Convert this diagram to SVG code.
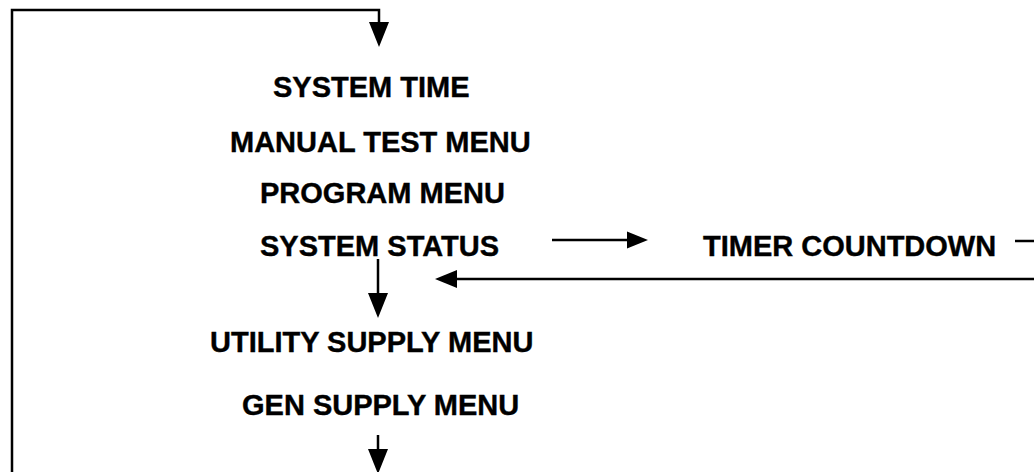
<svg xmlns="http://www.w3.org/2000/svg" width="1034" height="472" viewBox="0 0 1034 472">
  <style>
    .lbl { font-family: "Liberation Sans", Arial, sans-serif; font-weight: bold; font-size: 29px; fill: #000; stroke: #000; stroke-width: 0.4; }
    .ln { stroke: #000; stroke-width: 2.5; fill: none; }
    .head { fill: #000; }
  </style>
  <defs>
    <polygon id="headDown" class="head" points="-10,-25 10,-25 0,0"/>
    <polygon id="headRight" class="head" points="-21,-8.5 -21,8.5 0,0"/>
    <polygon id="headLeft" class="head" points="22,-9 22,9 0,0"/>
  </defs>
  <rect width="1034" height="472" fill="#fff"/>
  <g id="connectors">
    <path class="ln" d="M12,472 L12,10 L379,10 L379,30"/>
    <use href="#headDown" x="379" y="47"/>
    <path class="ln" d="M552,240 L630,240"/>
    <use href="#headRight" x="648" y="240"/>
    <path class="ln" d="M1015,241 L1034,241"/>
    <path class="ln" d="M1034,279 L452,279"/>
    <use href="#headLeft" x="435" y="279"/>
    <path class="ln" d="M378,259 L378,300"/>
    <use href="#headDown" x="378" y="318"/>
    <path class="ln" d="M378,435 L378,455"/>
    <use href="#headDown" x="378" y="474"/>
  </g>
  <g id="system-time"><text class="lbl" x="273" y="97">SYSTEM TIME</text></g>
  <g id="manual-test-menu"><text class="lbl" x="230" y="152">MANUAL TEST MENU</text></g>
  <g id="program-menu"><text class="lbl" x="260" y="203">PROGRAM MENU</text></g>
  <g id="system-status"><text class="lbl" x="260" y="256">SYSTEM STATUS</text></g>
  <g id="timer-countdown"><text class="lbl" x="703" y="256">TIMER COUNTDOWN</text></g>
  <g id="utility-supply-menu"><text class="lbl" x="210" y="352">UTILITY SUPPLY MENU</text></g>
  <g id="gen-supply-menu"><text class="lbl" x="242" y="415">GEN SUPPLY MENU</text></g>
</svg>
